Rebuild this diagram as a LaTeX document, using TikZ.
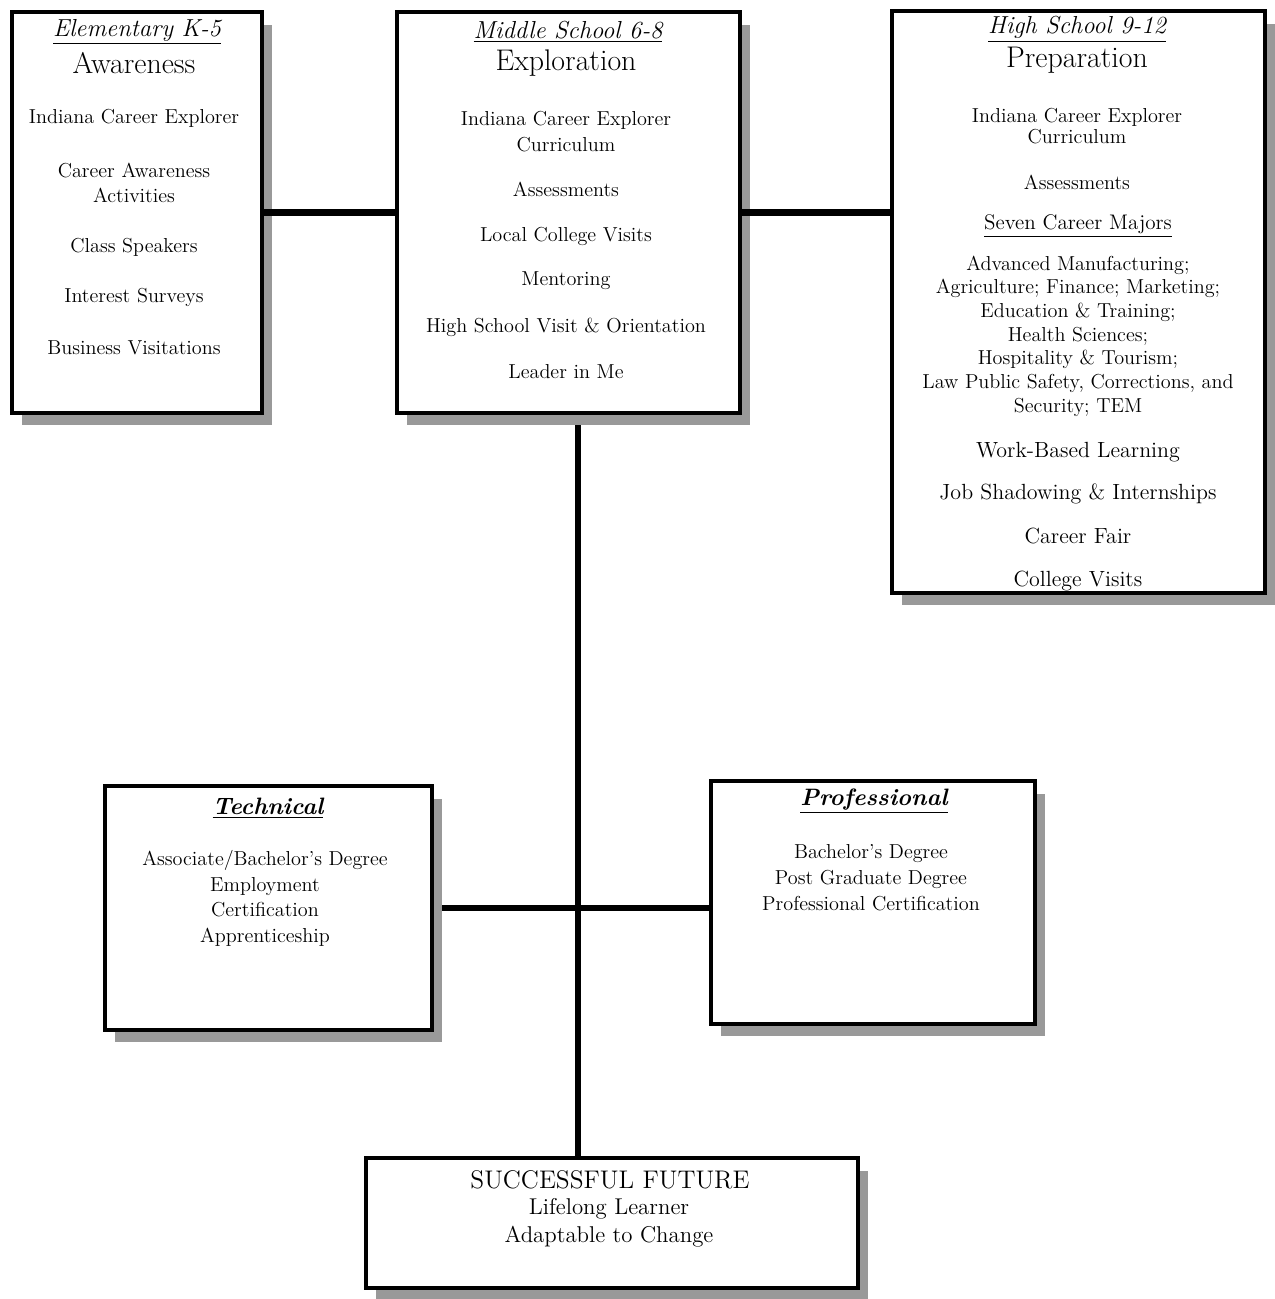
\documentclass[tikz,border=0pt]{standalone}
\usepackage{tikz}
\usetikzlibrary{positioning,shadows,backgrounds}

\tikzset{
  box/.style={draw=black,line width=2.4pt,fill=white,inner sep=0pt,
    drop shadow={shadow xshift=0.2cm,shadow yshift=-0.25cm,fill=black!40,opacity=1}},
  link/.style={draw=black,line width=3.6pt},
  title/.style={font=\fontsize{14}{16}\selectfont\itshape,inner sep=1pt},
  btitle/.style={font=\fontsize{13.5}{16}\selectfont\bfseries\itshape,inner sep=1pt},
  head/.style={font=\fontsize{17}{20}\selectfont,inner sep=1pt},
  item/.style={font=\fontsize{11.5}{14.5}\selectfont,align=center,inner sep=1pt},
  bigitem/.style={font=\fontsize{12.5}{15}\selectfont,align=center,inner sep=1pt},
}

\begin{document}
\begin{tikzpicture}[x=0.02cm,y=-0.02cm,line cap=butt,line join=miter]
\path[use as bounding box] (0,0) rectangle (1275,1299);

% boxes
\node[box,minimum width=5.00cm,minimum height=8.02cm] (elem) at (137,212.5) {};
\node[box,minimum width=6.86cm,minimum height=8.02cm] (mid) at (568.5,212.5) {};
\node[box,minimum width=7.46cm,minimum height=11.64cm] (high) at (1078.5,302) {};
\node[box,minimum width=6.54cm,minimum height=4.88cm] (tech) at (268.5,908) {};
\node[box,minimum width=6.48cm,minimum height=4.86cm] (prof) at (873,902.5) {};
\node[box,minimum width=9.84cm,minimum height=2.60cm] (succ) at (612,1223) {};

% connectors
\coordinate (trunk) at ([xshift=0.19cm]mid.south);
\draw[link] (elem) -- (mid);
\draw[link] (mid.east) -- (mid.east -| high.west);
\begin{pgfonlayer}{background}
\draw[link] (trunk) -- (trunk |- succ.north);
\draw[link] (tech) -- (tech -| prof.west);
\end{pgfonlayer}

% elementary
\node[title] (elemTitle) at (137,32) {\underline{Elementary K-5}};
\node[head] (elemHead) at (134,63) {Awareness};
\node[item] (elemA) at (134,118) {Indiana Career Explorer};
\node[item] (elemB) at (134,183) {Career Awareness\\Activities};
\node[item] (elemC) at (134,247) {Class Speakers};
\node[item] (elemD) at (134,297) {Interest Surveys};
\node[item] (elemE) at (134,348) {Business Visitations};

% middle school
\node[title] (midTitle) at (568,32) {\underline{Middle School 6-8}};
\node[head] (midHead) at (566,63) {Exploration};
\node[item] (midA) at (566,131.5) {Indiana Career Explorer\\Curriculum};
\node[item] (midB) at (566,189) {Assessments};
\node[item] (midC) at (566,236) {Local College Visits};
\node[item] (midD) at (566,281) {Mentoring};
\node[item] (midE) at (566,327) {High School Visit \& Orientation};
\node[item] (midF) at (566,372) {Leader in Me};

% high school
\node[title] (highTitle) at (1077,29) {\underline{High School 9-12}};
\node[head] (highHead) at (1077,60) {Preparation};
\node[item,font=\fontsize{11.5}{12}\selectfont] (highA) at (1077,126.5) {Indiana Career Explorer\\Curriculum};
\node[item] (highB) at (1077,182) {Assessments};
\node[font=\fontsize{12}{14}\selectfont,inner sep=1pt] (highC) at (1078,226) {\underline{Seven Career Majors}};
\node[item,font=\fontsize{11.5}{13.5}\selectfont] (highD) at (1078,336) {Advanced Manufacturing;\\Agriculture; Finance; Marketing;\\Education \& Training;\\Health Sciences;\\Hospitality \& Tourism;\\Law Public Safety, Corrections, and\\Security; TEM};
\node[bigitem] (highE) at (1078,452) {Work-Based Learning};
\node[bigitem] (highF) at (1078,494) {Job Shadowing \& Internships};
\node[bigitem] (highG) at (1078,536) {Career Fair};
\node[bigitem] (highH) at (1078,581) {College Visits};

% technical
\node[btitle] (techTitle) at (268,808) {\underline{Technical}};
\node[item,font=\fontsize{11.5}{14.6}\selectfont] (techA) at (265,898.5) {Associate/Bachelor's Degree\\Employment\\Certification\\Apprenticeship};

% professional
\node[btitle] (profTitle) at (874,801) {\underline{Professional}};
\node[item,font=\fontsize{11.5}{14.8}\selectfont] (profA) at (871,878) {Bachelor's Degree\\Post Graduate Degree\\Professional Certification};

% successful future
\node[font=\fontsize{14.5}{16}\selectfont,inner sep=1pt] (succA) at (610,1180) {SUCCESSFUL FUTURE};
\node[font=\fontsize{13}{16}\selectfont,align=center,inner sep=1pt] (succB) at (609,1223) {Lifelong Learner\\Adaptable to Change};
\end{tikzpicture}
\end{document}
